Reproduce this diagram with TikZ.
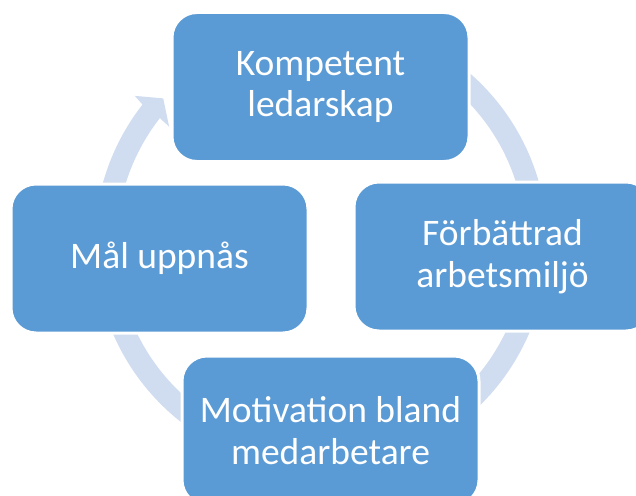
\documentclass[tikz,border=0pt]{standalone}
\usepackage{fontspec}
\setmainfont{Carlito}
\definecolor{boxblue}{RGB}{91,155,213}
\definecolor{ringblue}{RGB}{208,220,239}
\begin{document}
\begin{tikzpicture}[x=1pt,y=1pt,
  cyclebox/.style={rectangle, rounded corners=25pt, fill=boxblue, draw=white, line width=3pt,
    minimum width=297pt, minimum height=149pt, text=white, align=center,
    font=\fontsize{37.5}{41.5}\selectfont, inner sep=0pt},
  ringfill/.style={fill=ringblue}]
\useasboundingbox (0,0) rectangle (636,-495);
\clip (0,0) rectangle (636,-495);
\coordinate (c) at (321,-244);
% circular arrows (clockwise)
\fill[ringfill, shift={(c)}] (175:226.5) arc[start angle=175, end angle=142, radius=226.5]
  -- (141.5:238) -- (137.3:214.7) -- (142.3:192) -- (142:204.5)
  arc[start angle=142, end angle=175, radius=204.5] -- cycle;
\fill[ringfill, shift={(c)}] (85:226.5) arc[start angle=85, end angle=12, radius=226.5]
  -- (12:238) -- (7.3:214.7) -- (12:192) -- (12:204.5)
  arc[start angle=12, end angle=85, radius=204.5] -- cycle;
\fill[ringfill, shift={(c)}] (-5:226.5) arc[start angle=-5, end angle=-78, radius=226.5]
  -- (-78:238) -- (-82.7:214.7) -- (-78:192) -- (-78:204.5)
  arc[start angle=-78, end angle=-5, radius=204.5] -- cycle;
\fill[ringfill, shift={(c)}] (-95:226.5) arc[start angle=-95, end angle=-168, radius=226.5]
  -- (-168:238) -- (-172.7:214.7) -- (-168:192) -- (-168:204.5)
  arc[start angle=-168, end angle=-95, radius=204.5] -- cycle;
% boxes
\node[cyclebox] (ntop) at (320.5,-87) {Kompetent\\ledarskap};
\node[cyclebox] (nright) at (502.5,-256.5) {Förbättrad\\arbetsmiljö};
\node[cyclebox] (nbottom) at (330.5,-430.5) {Motivation bland\\medarbetare};
\node[cyclebox] (nleft) at (159.5,-258.5) {Mål uppnås};
\end{tikzpicture}
\end{document}
